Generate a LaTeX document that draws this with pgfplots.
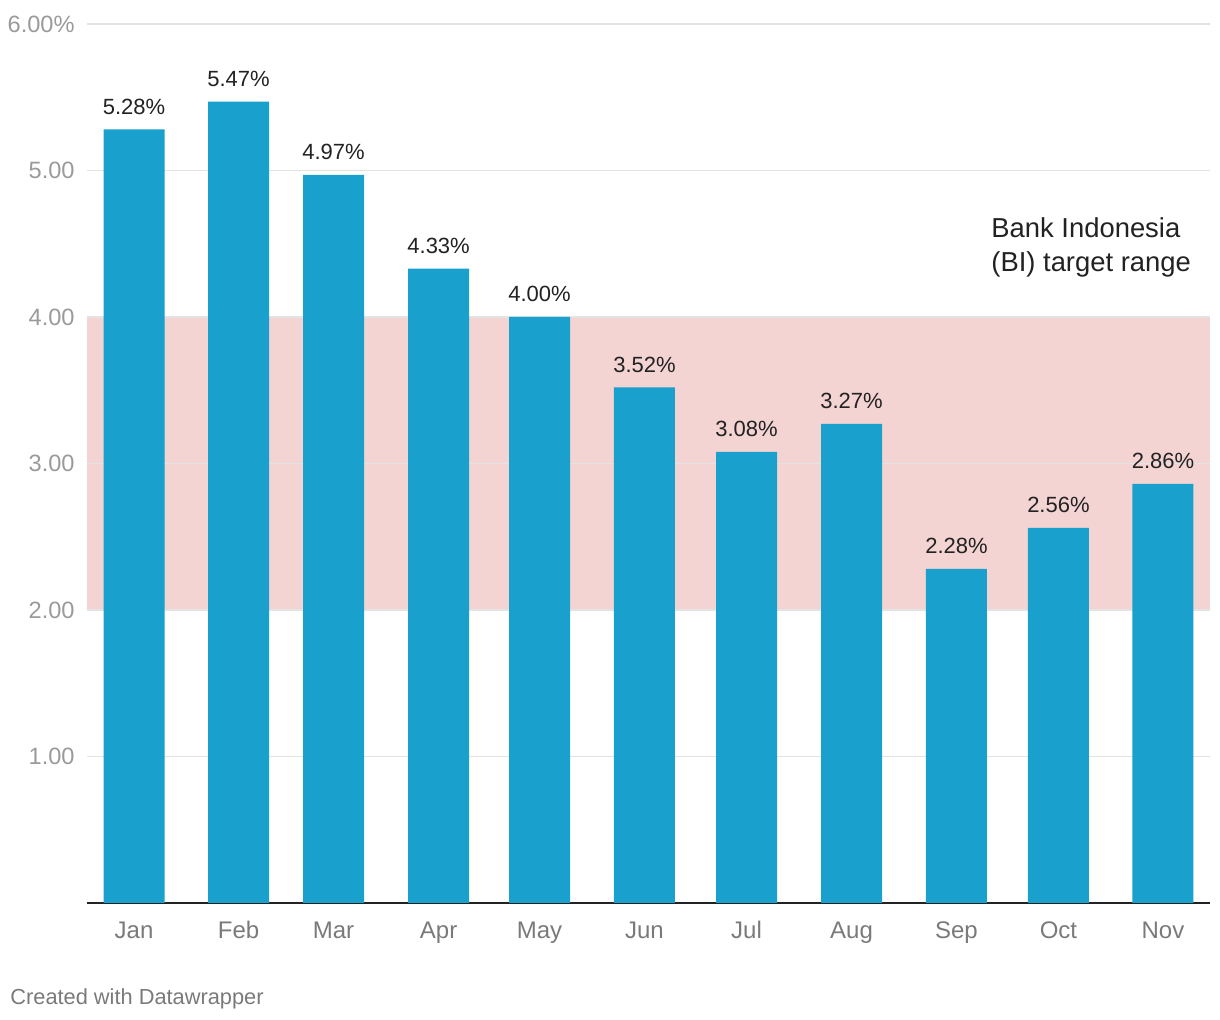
\documentclass[border=0pt]{standalone}
\usepackage{fontspec}
\setmainfont{Liberation Sans}
\usepackage{pgfplots}
\pgfplotsset{compat=1.18}
\definecolor{barblue}{HTML}{19A0CC}
\definecolor{bandpink}{HTML}{F4D3D3}
\definecolor{gridgray}{HTML}{E3E3E3}
\definecolor{ticktext}{HTML}{9A9A9A}
\definecolor{monthtext}{HTML}{7A7A7A}
\definecolor{labeltext}{HTML}{222222}
\begin{document}
\begin{tikzpicture}
\path (0,0) rectangle (610pt,510pt);
\begin{axis}[
    set layers,
    at={(43.5pt,58.5pt)}, anchor=south west,
    scale only axis, width=561.5pt, height=439.5pt,
    xmin=-0.457, xmax=10.457, ymin=0, ymax=6,
    axis lines*=left,
    y axis line style={draw=none},
    x axis line style={draw=labeltext, line width=1pt},
    major tick length=0pt,
    ymajorgrids, grid style={gridgray, line width=0.6pt},
    ytick={1,2,3,4,5,6},
    yticklabels={1.00,2.00,3.00,4.00,5.00,6.00\%},
    yticklabel style={anchor=east, xshift=-6pt, inner sep=0pt,
        text=ticktext, font=\fontsize{11.8}{14}\selectfont},
    xtick=data,
    xticklabels={Jan,Feb,Mar,Apr,May,Jun,Jul,Aug,Sep,Oct,Nov},
    xticklabel style={anchor=base, inner sep=0pt, yshift=-18pt, text=monthtext,
        font=\fontsize{12}{14}\selectfont},
    /pgf/number format/assume math mode=true,
    nodes near coords={\pgfmathprintnumber[fixed,precision=2,fixed zerofill]{\pgfplotspointmeta}\%},
    every node near coord/.append style={text=labeltext, yshift=4pt,
        font=\fontsize{11}{13}\selectfont},
]
\begin{pgfonlayer}{axis background}
\fill[bandpink] (axis cs:-0.457,2) rectangle (axis cs:10.457,4);
\end{pgfonlayer}
% monthly inflation, bars at the positions
\addplot[ybar, bar width=30.5pt, fill=barblue, draw=none]
coordinates{
    (0,5.28) (1.016,5.47) (1.939,4.97) (2.960,4.33) (3.941,4.00) (4.961,3.52)
    (5.953,3.08) (6.973,3.27) (7.993,2.28) (8.984,2.56) (10,2.86)};
\end{axis}
\node[anchor=west, align=left, text=labeltext, inner sep=0pt,
    font=\fontsize{13.7}{17}\selectfont] at (495.5pt,386.5pt)
    {Bank Indonesia\\(BI) target range};
\node[anchor=west, text=monthtext, inner sep=0pt,
    font=\fontsize{10.9}{12}\selectfont] at (5pt,10.5pt) {Created with Datawrapper};
\end{tikzpicture}
\end{document}
